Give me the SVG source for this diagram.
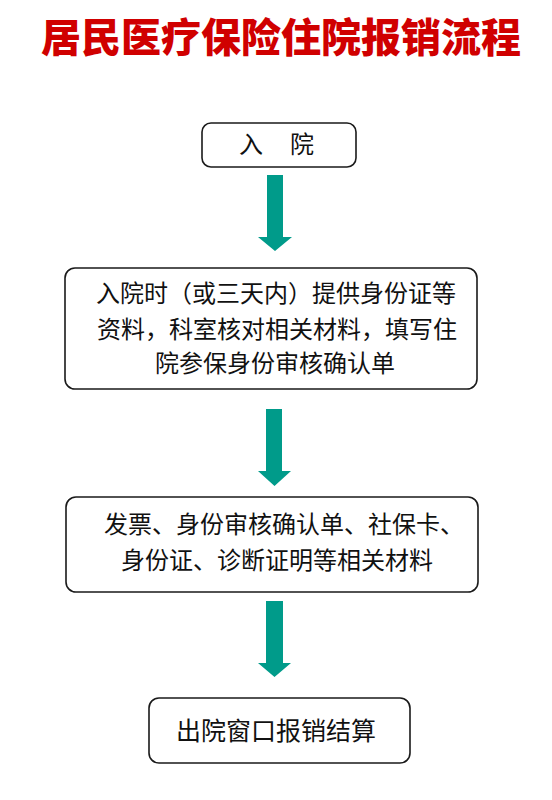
<svg xmlns="http://www.w3.org/2000/svg" width="552" height="800" viewBox="0 0 552 800">
<defs>
<style>
.box{fill:#fff;stroke:#1a1a1a;stroke-width:1.6}
.t{font-family:"Noto Sans CJK SC","Noto Sans CJK JP",sans-serif;font-size:24px;fill:#111;text-anchor:middle}
.title{font-family:"Noto Sans CJK SC","Noto Sans CJK JP",sans-serif;font-size:40px;font-weight:900;fill:#d00000;text-anchor:middle}
.arr{fill:#009b8a}
</style>
</defs>
<rect width="552" height="800" fill="#fff"/>
<text class="title" x="281" y="52">居民医疗保险住院报销流程</text>
<g id="n1">
<rect class="box" x="202" y="123" width="154" height="44" rx="9"/>
<text class="t" x="251" y="153">入</text>
<text class="t" x="302" y="153">院</text>
</g>
<g id="n2">
<rect class="box" x="65" y="268" width="412" height="121" rx="10"/>
<text class="t" x="276" y="302">入院时（或三天内）提供身份证等</text>
<text class="t" x="277" y="338">资料，科室核对相关材料，填写住</text>
<text class="t" x="275" y="372">院参保身份审核确认单</text>
</g>
<g id="n3">
<rect class="box" x="66" y="497" width="412" height="95" rx="10"/>
<text class="t" x="284" y="533">发票、身份审核确认单、社保卡、</text>
<text class="t" x="277" y="569">身份证、诊断证明等相关材料</text>
</g>
<g id="n4">
<rect class="box" x="149" y="698" width="261" height="65" rx="10"/>
<text class="t" x="276" y="740" style="font-size:25px">出院窗口报销结算</text>
</g>
<g id="connectors">
<polygon class="arr" points="267,175 283,175 283,237 292,237 275,251 258,237 267,237"/>
<polygon class="arr" points="266,409 282,409 282,471 291,471 274.5,486 258,471 266,471"/>
<polygon class="arr" points="266,601 283,601 283,663 291,663 274.5,677 258,663 266,663"/>
</g>
</svg>
